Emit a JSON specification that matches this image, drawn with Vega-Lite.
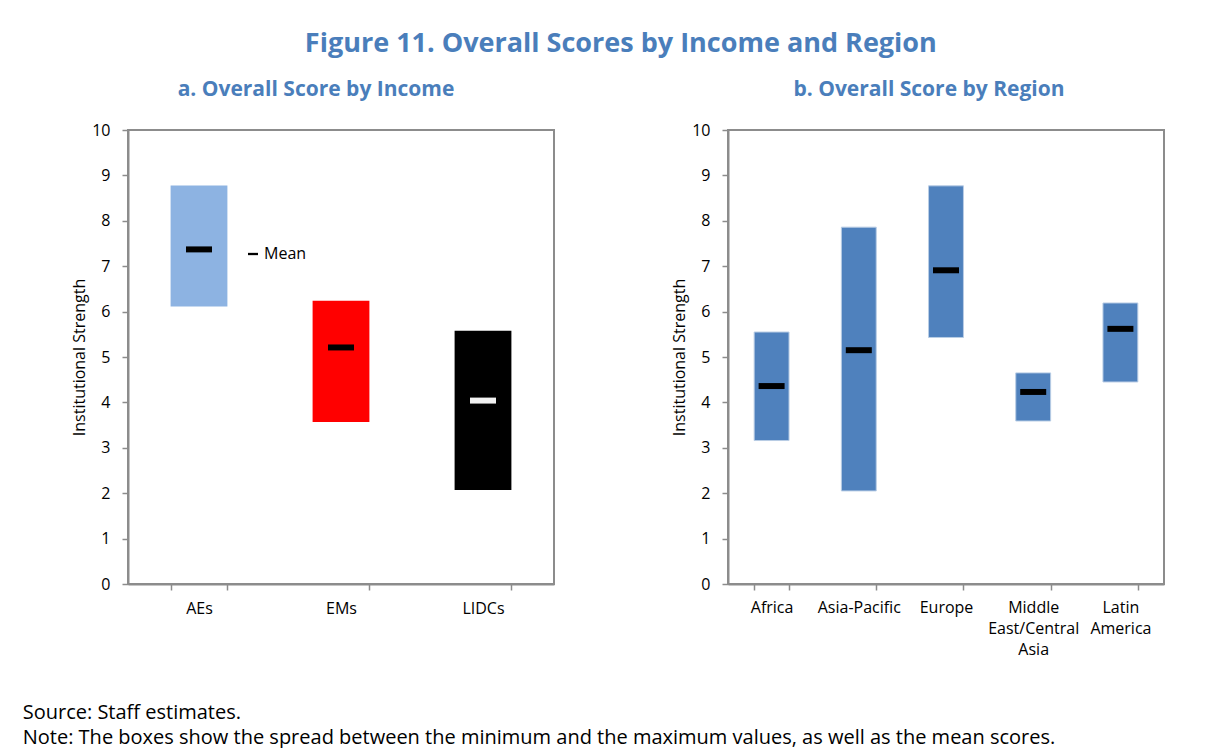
{
  "$schema": "https://vega.github.io/schema/vega-lite/v6.json",
  "padding": {"left": 22, "top": 30, "right": 5, "bottom": 0},
  "background": "white",
  "title": {"text": "Figure 11. Overall Scores by Income and Region", "font": "Open Sans", "fontSize": 27, "fontWeight": "bold", "color": "#4A7EBB", "anchor": "middle", "offset": 20, "dx": 27},
  "config": {
    "font": "Open Sans",
    "view": {"stroke": "#8C8C8C", "strokeWidth": 2},
    "axis": {"domainColor": "#8C8C8C", "domainWidth": 2, "tickColor": "#8C8C8C", "tickWidth": 1.5, "tickSize": 6, "labelColor": "black", "labelFontSize": 16, "labelFont": "Open Sans", "titleFont": "Open Sans", "titleFontSize": 16, "titleFontWeight": "normal", "titleColor": "black", "grid": false},
    "legend": {"labelFont": "Open Sans", "labelFontSize": 16, "labelColor": "black"}
  },
  "vconcat": [
    {
      "title": {"text": ["Source: Staff estimates.", "Note: The boxes show the spread between the minimum and the maximum values, as well as the mean scores."], "orient": "bottom", "anchor": "start", "font": "Open Sans", "fontSize": 20, "fontWeight": "normal", "color": "black", "lineHeight": 25, "offset": 45, "dx": -48},
      "spacing": 115,
      "hconcat": [
        {
          "title": {"text": "a. Overall Score by Income", "font": "Open Sans", "fontSize": 21, "fontWeight": "bold", "color": "#4A7EBB", "offset": 22, "dx": -25},
          "width": 426,
          "height": 454,
          "data": {"values": [
            {"group": "AEs", "min": 6.11, "max": 8.78, "mean": 7.37},
            {"group": "EMs", "min": 3.57, "max": 6.24, "mean": 5.21},
            {"group": "LIDCs", "min": 2.07, "max": 5.58, "mean": 4.04}
          ]},
          "encoding": {
            "x": {"field": "group", "type": "nominal", "sort": null, "scale": {"paddingInner": 0.6, "paddingOuter": 0.3}, "axis": {"title": null, "labelAngle": 0, "tickBand": "extent", "labelPadding": 10}}
          },
          "layer": [
            {
              "mark": {"type": "bar"},
              "encoding": {
                "y": {"field": "min", "type": "quantitative", "scale": {"domain": [0, 10], "nice": false}, "axis": {"title": "Institutional Strength", "values": [0, 1, 2, 3, 4, 5, 6, 7, 8, 9, 10], "labelPadding": 12, "titlePadding": 4}},
                "y2": {"field": "max"},
                "fill": {"field": "group", "type": "nominal", "scale": {"domain": ["AEs", "EMs", "LIDCs"], "range": ["#8DB3E2", "#FF0000", "#000000"]}, "legend": null}
              }
            },
            {
              "mark": {"type": "point", "filled": true, "size": 676, "opacity": 1, "strokeWidth": 0},
              "encoding": {
                "y": {"field": "mean", "type": "quantitative"},
                "fill": {"field": "group", "type": "nominal", "scale": {"domain": ["AEs", "EMs", "LIDCs"], "range": ["#000000", "#000000", "#F2F2F2"]}, "legend": null},
                "shape": {"datum": "Mean", "type": "nominal", "scale": {"domain": ["Mean"], "range": ["M-1,-0.23H1V0.23H-1Z"]}, "legend": {"title": null, "orient": "none", "legendX": 117, "legendY": 116, "symbolSize": 100, "symbolFillColor": "black", "symbolStrokeWidth": 0, "symbolOpacity": 1, "labelOffset": 3}}
              }
            }
          ],
          "resolve": {"scale": {"fill": "independent"}}
        },
        {
          "title": {"text": "b. Overall Score by Region", "font": "Open Sans", "fontSize": 21, "fontWeight": "bold", "color": "#4A7EBB", "offset": 22, "dx": -17},
          "width": 436,
          "height": 454,
          "data": {"values": [
            {"region": "Africa", "min": 3.16, "max": 5.55, "mean": 4.36},
            {"region": "Asia-Pacific", "min": 2.05, "max": 7.86, "mean": 5.15},
            {"region": "Europe", "min": 5.43, "max": 8.77, "mean": 6.91},
            {"region": "Middle East/Central Asia", "min": 3.59, "max": 4.65, "mean": 4.23},
            {"region": "Latin America", "min": 4.45, "max": 6.19, "mean": 5.62}
          ]},
          "encoding": {
            "x": {"field": "region", "type": "nominal", "sort": null, "scale": {"paddingInner": 0.6, "paddingOuter": 0.3}, "axis": {"title": null, "labelAngle": 0, "tickBand": "extent", "labelPadding": 9, "labelLineHeight": 21, "labelExpr": "datum.label == 'Middle East/Central Asia' ? ['Middle', 'East/Central', 'Asia'] : datum.label == 'Latin America' ? ['Latin', 'America'] : datum.label"}}
          },
          "layer": [
            {
              "mark": {"type": "bar", "fill": "#4F81BD", "stroke": "#B9CDE5", "strokeWidth": 1},
              "encoding": {
                "y": {"field": "min", "type": "quantitative", "scale": {"domain": [0, 10], "nice": false}, "axis": {"title": "Institutional Strength", "values": [0, 1, 2, 3, 4, 5, 6, 7, 8, 9, 10], "labelPadding": 12, "titlePadding": 4}},
                "y2": {"field": "max"}
              }
            },
            {
              "mark": {"type": "point", "filled": true, "size": 676, "opacity": 1, "strokeWidth": 0, "fill": "black", "shape": "M-1,-0.23H1V0.23H-1Z"},
              "encoding": {
                "y": {"field": "mean", "type": "quantitative"}
              }
            }
          ]
        }
      ]
    }
  ]
}
